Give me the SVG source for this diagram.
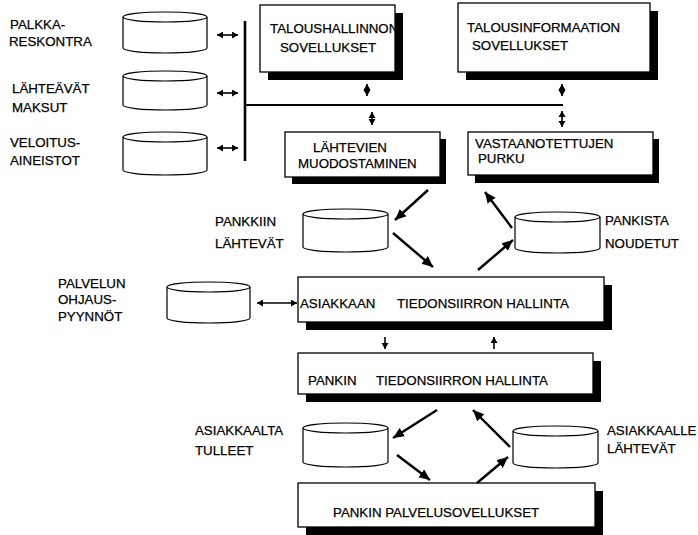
<svg xmlns="http://www.w3.org/2000/svg" width="698" height="535" viewBox="0 0 698 535">
  <style>
    text { font-family: "Liberation Sans", Arial, sans-serif; font-size: 13.3px; text-transform: uppercase; fill: #000; stroke: #000; stroke-width: 0.25; }
    .box { fill: #fff; stroke: #000; stroke-width: 1.3; }
    .shadow { fill: #000; }
    .cyl { fill: #fff; stroke: #000; stroke-width: 1.2; }
    .bus { stroke: #000; fill: none; }
    .flow { stroke: #000; stroke-width: 2.4; fill: none; marker-end: url(#head); }
    .small { stroke: #000; stroke-width: 1.6; fill: none; marker-start: url(#tipS); marker-end: url(#tipE); }
    .one { stroke: #000; stroke-width: 1.6; fill: none; marker-end: url(#tipE); }
  </style>
  <defs>
    <marker id="head" markerUnits="userSpaceOnUse" markerWidth="14" markerHeight="12" refX="11" refY="5" orient="auto">
      <path d="M0,0 L11,5 L0,10 Z" fill="#000"/>
    </marker>
    <marker id="tipE" markerUnits="userSpaceOnUse" markerWidth="8" markerHeight="8" refX="6" refY="3.5" orient="auto">
      <path d="M0,0 L6,3.5 L0,7 Z" fill="#000"/>
    </marker>
    <marker id="tipS" markerUnits="userSpaceOnUse" markerWidth="8" markerHeight="8" refX="0" refY="3.5" orient="auto">
      <path d="M6,0 L0,3.5 L6,7 Z" fill="#000"/>
    </marker>
  </defs>

  <!-- data stores on the left -->
  <g id="store-palkka">
    <path class="cyl" d="M123,17 V48 A42,5 0 0 0 207,48 V17"/>
    <ellipse class="cyl" cx="165" cy="17" rx="42" ry="5"/>
    <text x="10" y="29">PALKKA-</text>
    <text x="9" y="46">RESKONTRA</text>
  </g>
  <g id="store-maksut">
    <path class="cyl" d="M123,76 V105 A42,5 0 0 0 207,105 V76"/>
    <ellipse class="cyl" cx="165" cy="76" rx="42" ry="5"/>
    <text x="12" y="93">LÄHTEÄVÄT</text>
    <text x="12" y="112">MAKSUT</text>
  </g>
  <g id="store-veloitus">
    <path class="cyl" d="M123,137 V170 A42,5 0 0 0 207,170 V137"/>
    <ellipse class="cyl" cx="165" cy="137" rx="42" ry="5"/>
    <text x="10" y="147">VELOITUS-</text>
    <text x="10" y="165">AINEISTOT</text>
  </g>

  <!-- application boxes -->
  <g id="talous">
    <rect class="shadow" x="268" y="13" width="135" height="67"/>
    <rect class="box" x="260" y="5" width="135" height="67"/>
    <text x="270" y="33">TALOUSHALLINNON</text>
    <text x="280" y="52">SOVELLUKSET</text>
  </g>
  <g id="talousinfo">
    <rect class="shadow" x="466" y="11" width="192" height="69"/>
    <rect class="box" x="458" y="3" width="192" height="69"/>
    <text x="467" y="32">TALOUSINFORMAATION</text>
    <text x="472" y="50">SOVELLUKSET</text>
  </g>
  <g id="lahtevien">
    <rect class="shadow" x="292" y="139" width="154" height="45"/>
    <rect class="box" x="285" y="132" width="155" height="45"/>
    <text x="313" y="152">LÄHTEVIEN</text>
    <text x="298" y="168">MUODOSTAMINEN</text>
  </g>
  <g id="purku">
    <rect class="shadow" x="475" y="139" width="184" height="44"/>
    <rect class="box" x="468" y="132" width="185" height="43"/>
    <text x="475" y="148">VASTAANOTETTUJEN</text>
    <text x="478" y="163">PURKU</text>
  </g>

  <g id="store-pankkiin">
    <path class="cyl" d="M303,214 V247 A42.5,5 0 0 0 388,247 V214"/>
    <ellipse class="cyl" cx="345.5" cy="214" rx="42.5" ry="5"/>
    <text x="215" y="226">PANKKIIN</text>
    <text x="215" y="248">LÄHTEVÄT</text>
  </g>
  <g id="store-pankista">
    <path class="cyl" d="M515,217 V248 A42.5,5 0 0 0 600,248 V217"/>
    <ellipse class="cyl" cx="557.5" cy="217" rx="42.5" ry="5"/>
    <text x="605" y="225">PANKISTA</text>
    <text x="605" y="248">NOUDETUT</text>
  </g>

  <g id="store-ohjaus">
    <path class="cyl" d="M167,287 V318 A41.5,5 0 0 0 250,318 V287"/>
    <ellipse class="cyl" cx="208.5" cy="287" rx="41.5" ry="5"/>
    <text x="58" y="288">PALVELUN</text>
    <text x="58" y="304">OHJAUS-</text>
    <text x="58" y="321">PYYNNÖT</text>
  </g>

  <g id="asiakkaan">
    <rect class="shadow" x="306" y="285" width="306" height="45"/>
    <rect class="box" x="298" y="277" width="306" height="45"/>
    <text x="300" y="308">ASIAKKAAN</text>
    <text x="397" y="308">TIEDONSIIRRON HALLINTA</text>
  </g>
  <g id="pankin">
    <rect class="shadow" x="306" y="361" width="295" height="41"/>
    <rect class="box" x="298" y="353" width="295" height="41"/>
    <text x="308" y="385">PANKIN</text>
    <text x="376" y="385">TIEDONSIIRRON HALLINTA</text>
  </g>

  <g id="store-tulleet">
    <path class="cyl" d="M303,428 V462 A42.5,5 0 0 0 388,462 V428"/>
    <ellipse class="cyl" cx="345.5" cy="428" rx="42.5" ry="5"/>
    <text x="195" y="435">ASIAKKAALTA</text>
    <text x="195" y="455">TULLEET</text>
  </g>
  <g id="store-lahtevat">
    <path class="cyl" d="M513,431 V463 A42.5,5 0 0 0 598,463 V431"/>
    <ellipse class="cyl" cx="555.5" cy="431" rx="42.5" ry="5"/>
    <text x="607" y="435">ASIAKKAALLE</text>
    <text x="607" y="453">LÄHTEVÄT</text>
  </g>

  <g id="palvelu">
    <rect class="shadow" x="306" y="491" width="297" height="44"/>
    <rect class="box" x="298" y="483" width="297" height="44"/>
    <text x="333" y="517">PANKIN PALVELUSOVELLUKSET</text>
  </g>

  <!-- connectors -->
  <g id="connectors">
    <line class="bus" x1="245" y1="21" x2="245" y2="161" stroke-width="2.6"/>
    <line class="bus" x1="245" y1="105" x2="563" y2="105" stroke-width="2"/>

    <line class="small" x1="217" y1="35" x2="238" y2="35"/>
    <line class="small" x1="217" y1="93" x2="238" y2="93"/>
    <line class="small" x1="217" y1="148" x2="238" y2="148"/>

    <line class="small" x1="367" y1="84" x2="367" y2="96"/>
    <line class="small" x1="562" y1="84" x2="562" y2="96"/>
    <line class="small" x1="372" y1="112" x2="372" y2="125"/>
    <line class="small" x1="562" y1="111" x2="562" y2="127"/>

    <line class="flow" x1="428" y1="190" x2="395" y2="220"/>
    <line class="flow" x1="393" y1="233" x2="433" y2="267"/>
    <line class="flow" x1="512" y1="228" x2="485" y2="192"/>
    <line class="flow" x1="478" y1="270" x2="513" y2="240"/>

    <line class="small" x1="257" y1="303" x2="297" y2="303"/>

    <line class="one" x1="385" y1="337" x2="385" y2="349"/>
    <line class="one" x1="494" y1="349" x2="494" y2="337"/>

    <line class="flow" x1="437" y1="410" x2="393" y2="438"/>
    <line class="flow" x1="397" y1="455" x2="430" y2="480"/>
    <line class="flow" x1="510" y1="447" x2="473" y2="410"/>
    <line class="flow" x1="477" y1="483" x2="508" y2="457"/>
  </g>
</svg>
